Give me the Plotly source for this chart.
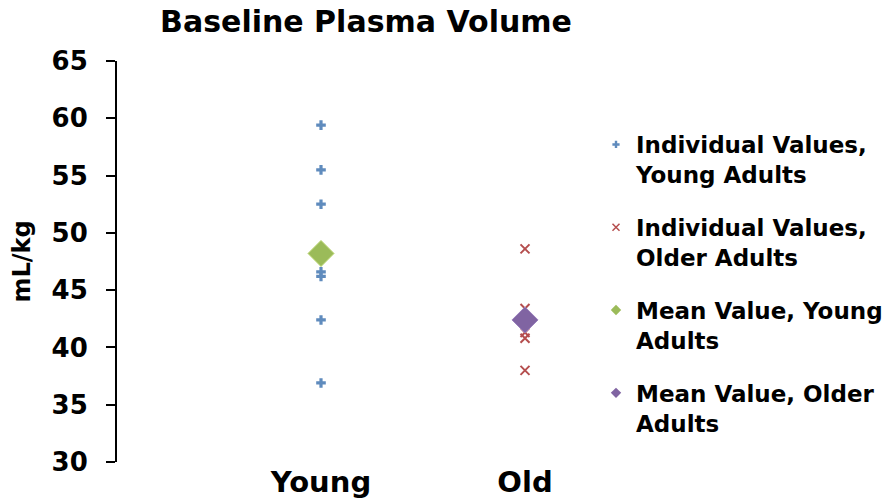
import plotly.graph_objects as go

categories = ["Young", "Old"]
cat_pos = [1, 2]
young_values = [59.4, 55.5, 52.5, 46.6, 46.2, 42.4, 36.9]
old_values = [48.6, 43.4, 41.3, 40.8, 38.0]
young_mean = 48.2
old_mean = 42.4
y_ticks = [30, 35, 40, 45, 50, 55, 60, 65]
legend_names = ["Individual Values,<br>Young Adults", "Individual Values,<br>Older Adults",
                "Mean Value, Young<br>Adults", "Mean Value, Older<br>Adults"]

FONT = "DejaVu Sans"
C_Y, C_O, C_YM, C_OM = "#5f8bbd", "#b54e4e", "#9bbb59", "#8064a2"

# the page body has an 8px margin, so the figure is sized to fit inside the window
W, H = 884, 494

def bold(s):
    return "<b>" + s.replace("<br>", "</b><br><b>") + "</b>"

fig = go.Figure()

# data traces
fig.add_trace(go.Scatter(x=[cat_pos[0]] * len(young_values), y=young_values, mode="markers",
                         showlegend=False, marker=dict(symbol="cross", size=8, color=C_Y)))
fig.add_trace(go.Scatter(x=[cat_pos[1]] * len(old_values), y=old_values, mode="markers",
                         showlegend=False,
                         marker=dict(symbol="x-thin", size=9, color=C_O, line=dict(width=2, color=C_O))))
fig.add_trace(go.Scatter(x=[cat_pos[0]], y=[young_mean], mode="markers", showlegend=False,
                         marker=dict(symbol="diamond", size=20, color=C_YM, line=dict(width=1, color="#b8d36e"))))
fig.add_trace(go.Scatter(x=[cat_pos[1]], y=[old_mean], mode="markers", showlegend=False,
                         marker=dict(symbol="diamond", size=20, color=C_OM, line=dict(width=1, color="#9a80bd"))))

# legend entries (small symbols as in the reference)
leg_markers = [
    dict(symbol="cross", size=6, color=C_Y),
    dict(symbol="x-thin", size=7, color=C_O, line=dict(width=1.5, color=C_O)),
    dict(symbol="diamond", size=8, color=C_YM),
    dict(symbol="diamond", size=8, color=C_OM),
]
for i, (nm, mk) in enumerate(zip(legend_names, leg_markers)):
    fig.add_trace(go.Scatter(x=[None], y=[None], mode="markers", name=bold(nm),
                             legendgroup="g%d" % i, marker=mk))

fig.update_layout(
    template="none",
    width=W, height=H,
    paper_bgcolor="white", plot_bgcolor="white",
    margin=dict(l=109, r=265, t=53, b=40, pad=0, autoexpand=False),
    font=dict(family=FONT, color="black"),
    title=dict(text="<b>Baseline Plasma Volume</b>", x=358 / W, xanchor="center",
               y=0.993, yanchor="top", font=dict(size=30, family=FONT)),
    xaxis=dict(range=[0, 2.5], tickvals=cat_pos, ticktext=["<b>%s</b>" % c for c in categories],
               showgrid=False, zeroline=False, showline=False, ticks="", automargin=False,
               tickfont=dict(size=29, family=FONT)),
    yaxis=dict(range=[30, 65], tickvals=y_ticks, ticktext=["<b>%d</b>" % v for v in y_ticks],
               showgrid=False, zeroline=False, showline=True, linecolor="black", linewidth=2,
               ticks="outside", ticklen=9, tickwidth=2, tickcolor="black", automargin=False,
               ticklabelstandoff=13,
               tickfont=dict(size=26, family=FONT),
               title=dict(text="<b>mL/kg</b>", font=dict(size=24, family=FONT), standoff=18)),
    legend=dict(xref="container", yref="container", x=588 / W, y=1 - 115 / H,
                xanchor="left", yanchor="top", valign="top", tracegroupgap=20, maxheight=1.0,
                font=dict(size=23, family=FONT), bgcolor="rgba(0,0,0,0)", borderwidth=0),
    showlegend=True,
)

fig.write_html("out.html")
